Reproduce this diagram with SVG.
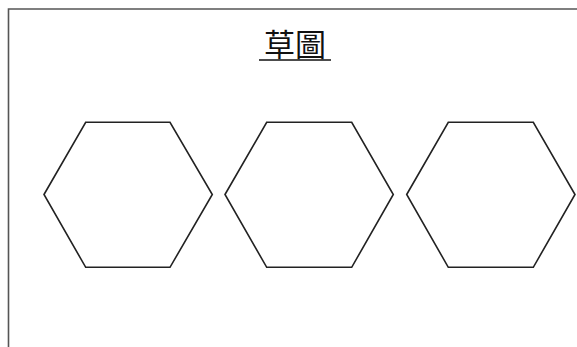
<svg xmlns="http://www.w3.org/2000/svg" width="577" height="347" viewBox="0 0 577 347">
<style>
.frame{fill:none;stroke:#555;stroke-width:1.6}
.hex{fill:#fff;stroke:#222;stroke-width:1.6;stroke-linejoin:miter}
.title{font-family:"Noto Sans CJK TC","Noto Sans CJK SC",sans-serif;font-size:31px;fill:#111}
</style>
<rect width="577" height="347" fill="#fff"/>
<path class="frame" d="M8.5,347 V9 H577"/>
<g id="title">
<text class="title" x="295" y="56" text-anchor="middle">草圖</text>
<line x1="259" y1="60" x2="331" y2="60" stroke="#111" stroke-width="1.6"/>
</g>
<g id="hex1"><polygon class="hex" points="44,194.5 85.7,122.3 170,122.3 212.3,194.5 170,267.3 85.7,267.3"/></g>
<g id="hex2"><polygon class="hex" points="225,194.5 266.7,122.3 351.7,122.3 393.3,194.5 351.7,267.3 266.7,267.3"/></g>
<g id="hex3"><polygon class="hex" points="406.7,194.5 448.3,122.3 533.3,122.3 575,194.5 533.3,267.3 448.3,267.3"/></g>
<g id="connectors"></g>
</svg>
